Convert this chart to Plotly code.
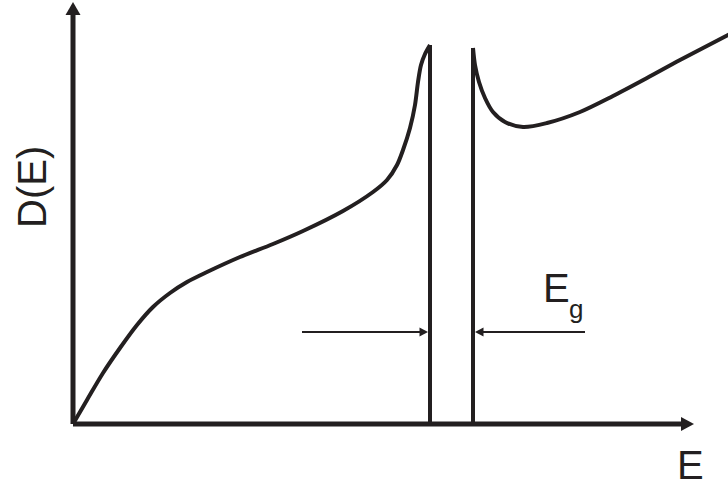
import math
import plotly.graph_objects as go

# Density of states D(E): valence band up to the gap, conduction band above it
E_valence = [0.00, 0.14, 0.30, 0.47, 0.64, 0.80, 0.97, 1.14, 1.34, 1.67,
             2.00, 2.30, 2.70, 3.00, 3.14, 3.24, 3.30, 3.37, 3.42, 3.45,
             3.48, 3.52, 3.57]
D_valence = [0.00, 0.24, 0.51, 0.76, 0.99, 1.17, 1.31, 1.42, 1.52, 1.67,
             1.80, 1.93, 2.13, 2.32, 2.44, 2.59, 2.74, 2.96, 3.19, 3.42,
             3.59, 3.70, 3.79]

E_conduction = [4.00, 4.02, 4.06, 4.12, 4.20, 4.32, 4.50, 4.74, 5.07, 5.40,
                5.74, 6.07, 6.55, 6.80]
D_conduction = [3.76, 3.59, 3.42, 3.26, 3.12, 3.02, 2.97, 3.01, 3.12, 3.28,
                3.46, 3.64, 3.89, 4.02]

# Band edges
E_v = 3.57
E_c = 4.00

# Axis extents
E_AXIS_END = 6.21
D_AXIS_END = 4.22
E_VIEW = [-0.73, 6.55]
D_VIEW = [-0.62, 4.24]

# Gap marker arrows: tails and height
GAP_Y = 0.92
GAP_LEFT_TAIL = 2.29
GAP_RIGHT_TAIL = 5.12

INK = "#231f20"
FONT = "Liberation Sans, Arial, Helvetica, sans-serif"

fig = go.Figure()
shapes = []


def arrow(tail, tip, width, head_len, head_w):
    """Straight line from tail to tip ending in a filled triangular head."""
    dx, dy = tip[0] - tail[0], tip[1] - tail[1]
    n = math.hypot(dx, dy)
    ux, uy = dx / n, dy / n
    bx, by = tip[0] - ux * head_len, tip[1] - uy * head_len
    px, py = -uy * head_w / 2, ux * head_w / 2
    fig.add_trace(go.Scatter(
        x=[tail[0], bx + ux * 0.02], y=[tail[1], by + uy * 0.02], mode="lines",
        line=dict(color=INK, width=width), hoverinfo="skip"))
    shapes.append(dict(
        type="path", xref="x", yref="y", fillcolor=INK, line=dict(width=0),
        path=f"M{tip[0]},{tip[1]} L{bx + px},{by + py} L{bx - px},{by - py} Z"))


# axes
arrow((0, 0), (0, D_AXIS_END), 5, 0.13, 0.15)
arrow((0, 0), (E_AXIS_END, 0), 5, 0.13, 0.14)

# band curves
fig.add_trace(go.Scatter(
    x=E_valence, y=D_valence, mode="lines",
    line=dict(color=INK, width=4, shape="spline", smoothing=0.9),
    hoverinfo="skip"))
fig.add_trace(go.Scatter(
    x=[E_v, E_v], y=[D_valence[-1], 0], mode="lines",
    line=dict(color=INK, width=4), hoverinfo="skip"))
fig.add_trace(go.Scatter(
    x=[E_c, E_c], y=[0, D_conduction[0]], mode="lines",
    line=dict(color=INK, width=4), hoverinfo="skip"))
fig.add_trace(go.Scatter(
    x=E_conduction, y=D_conduction, mode="lines",
    line=dict(color=INK, width=4, shape="spline", smoothing=0.9),
    hoverinfo="skip"))

# gap markers
arrow((GAP_LEFT_TAIL, GAP_Y), (E_v - 0.02, GAP_Y), 2, 0.085, 0.09)
arrow((GAP_RIGHT_TAIL, GAP_Y), (E_c + 0.02, GAP_Y), 2, 0.085, 0.09)

annotations = [
    dict(x=4.83, y=1.36, text="E", showarrow=False,
         xanchor="center", yanchor="middle",
         font=dict(family=FONT, size=40, color=INK)),
    dict(x=5.03, y=1.15, text="g", showarrow=False,
         xanchor="center", yanchor="middle",
         font=dict(family=FONT, size=26, color=INK)),
    dict(x=6.17, y=-0.41, text="E", showarrow=False,
         xanchor="center", yanchor="middle",
         font=dict(family=FONT, size=40, color=INK)),
    dict(x=-0.41, y=2.37, text="D(E)", showarrow=False, textangle=-90,
         xanchor="center", yanchor="middle",
         font=dict(family=FONT, size=40, color=INK)),
]

fig.update_layout(
    width=728, height=486,
    margin=dict(l=0, r=0, t=0, b=0),
    paper_bgcolor="white", plot_bgcolor="white",
    showlegend=False,
    xaxis=dict(range=E_VIEW, visible=False, fixedrange=True),
    yaxis=dict(range=D_VIEW, visible=False, fixedrange=True),
    annotations=annotations,
    shapes=shapes,
)

fig.write_html("out.html")
